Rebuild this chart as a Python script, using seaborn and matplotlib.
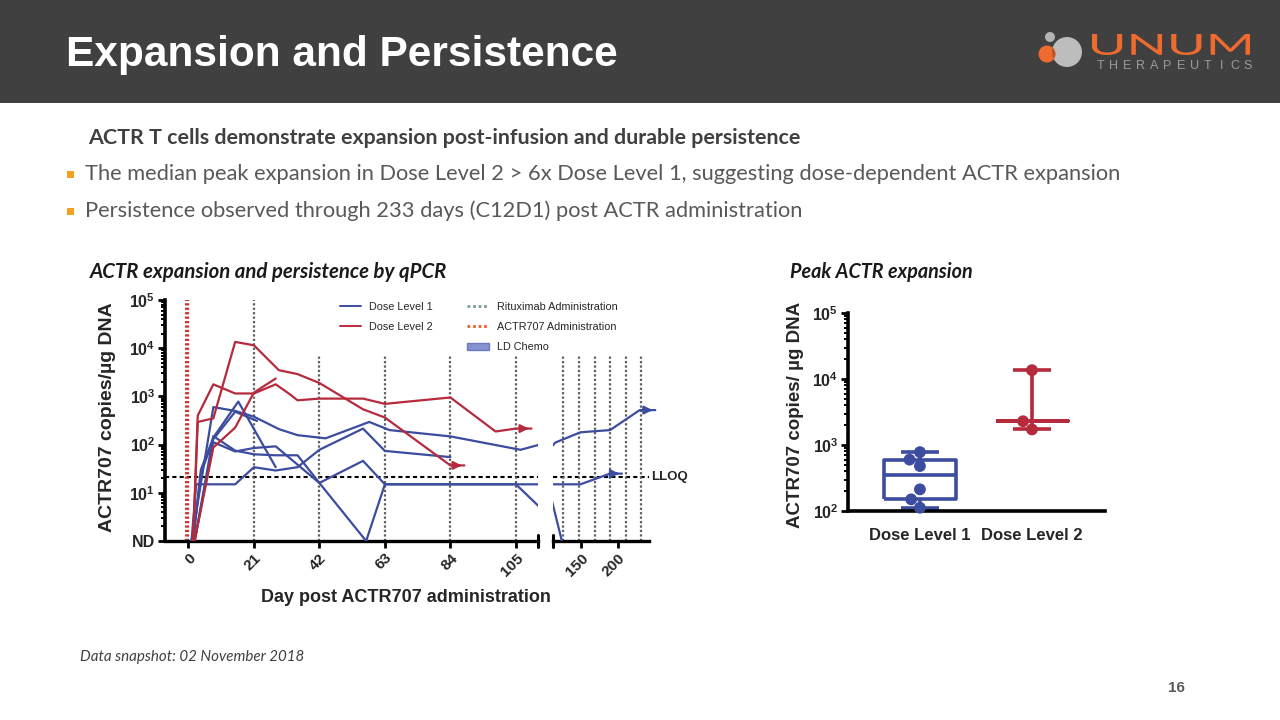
import numpy as np
import pandas as pd
import matplotlib
matplotlib.use("Agg")
import matplotlib.pyplot as plt
import seaborn as sns
from matplotlib.lines import Line2D
from matplotlib.patches import Patch, Rectangle, Circle, PathPatch
from matplotlib.textpath import TextPath
from matplotlib.font_manager import FontProperties
from matplotlib.transforms import Affine2D
from matplotlib.ticker import LogLocator, NullFormatter

# ---- qPCR time courses: study day / ACTR707 copies per ug DNA (1 = ND) ----
dl1_a_day = [1, 8, 15, 21, 29, 35, 44, 58, 64.5, 84, 106.5, 115, 149, 189, 229, 250]
dl1_a_val = [1, 600, 500, 380, 210, 157, 135, 295, 200, 148, 78, 110, 180, 200, 520, 520]
dl1_b_day = [1.5, 4, 8, 16, 28]
dl1_b_val = [1, 30, 140, 780, 34]
dl1_c_day = [1.5, 4, 8, 15, 22]
dl1_c_val = [1, 25, 130, 480, 310]
dl1_d_day = [2, 8, 15, 21, 28, 35, 42, 57, 63, 105, 124]
dl1_d_val = [1, 150, 75, 63, 60, 60, 16, 1, 15, 15, 1]
dl1_e_day = [2, 8, 15, 21, 28, 42, 56, 63, 105, 149, 189, 205]
dl1_e_val = [1, 112, 72, 85, 92, 16, 46, 15, 15, 15, 25, 25]
dl1_f_day = [1, 2.5, 15, 21, 28, 35, 42, 56, 63, 84]
dl1_f_val = [1, 15, 15, 34, 29, 34, 78, 215, 74, 55]

dl2_a_day = [1.5, 3, 8, 15, 21, 28, 32.6, 35, 42, 56, 63, 84, 98.5, 105, 110]
dl2_a_val = [1, 400, 1780, 1150, 1150, 1780, 1100, 830, 900, 900, 700, 950, 187, 215, 215]
dl2_b_day = [1.5, 3, 8, 15, 21, 29, 35, 42, 56, 63, 84, 88.5]
dl2_b_val = [1, 295, 350, 13500, 11500, 3500, 2900, 1900, 540, 365, 37, 37]
dl2_c_day = [2, 8, 15, 21, 28]
dl2_c_val = [1, 87, 225, 1200, 2350]

# patients still followed at data cut (drawn with an arrow)
ongoing = ["DL1-A", "DL1-E", "DL2-A", "DL2-B"]

# peak expansion per patient
dl1_peak = [780, 600, 480, 213, 150, 112]
dl2_peak = [13600, 2290, 1720]

lloq = 21
ritux_left = [21, 42, 63, 84, 105]
ritux_right = [126, 147, 168, 189, 210, 231]
ritux_day0 = -0.8
actr_day0 = 0
left_ticks = [0, 21, 42, 63, 84, 105]
right_ticks = [150, 200]

sns.set_theme(style="white")
plt.rcParams["font.family"] = ["Liberation Sans", "DejaVu Sans"]
plt.rcParams["mathtext.fontset"] = "custom"
plt.rcParams["mathtext.bf"] = "Liberation Sans:bold"
plt.rcParams["mathtext.rm"] = "Liberation Sans"

BLUE = "#3c4c9e"
RED = "#b52a3c"
GRAY_DOT = "#5f5f5f"
pal = {"Dose Level 1": BLUE, "Dose Level 2": RED}

patients = [
    ("DL1-A", "Dose Level 1", dl1_a_day, dl1_a_val),
    ("DL1-B", "Dose Level 1", dl1_b_day, dl1_b_val),
    ("DL1-C", "Dose Level 1", dl1_c_day, dl1_c_val),
    ("DL1-D", "Dose Level 1", dl1_d_day, dl1_d_val),
    ("DL1-E", "Dose Level 1", dl1_e_day, dl1_e_val),
    ("DL1-F", "Dose Level 1", dl1_f_day, dl1_f_val),
    ("DL2-A", "Dose Level 2", dl2_a_day, dl2_a_val),
    ("DL2-B", "Dose Level 2", dl2_b_day, dl2_b_val),
    ("DL2-C", "Dose Level 2", dl2_c_day, dl2_c_val),
]
rows = []
for name, dose, days, vals in patients:
    for d, v in zip(days, vals):
        rows.append((name, dose, d, v))
df = pd.DataFrame(rows, columns=["patient", "dose", "day", "copies"])

dfp = pd.DataFrame({
    "dose": ["Dose Level 1"] * len(dl1_peak) + ["Dose Level 2"] * len(dl2_peak),
    "peak": dl1_peak + dl2_peak,
})

fig = plt.figure(figsize=(12.8, 7.2), dpi=100)
IN = fig.dpi_scale_trans
H = 7.2


def xy(x, y):
    # slide pixel -> inches from bottom left
    return x / 100, H - y / 100


# ---- slide header ----
fig.add_artist(Rectangle(xy(0, 103), 12.8, 1.03, transform=IN, color="#404040", lw=0))
fig.text(*xy(66, 55), "Expansion and Persistence", transform=IN, color="white",
         fontsize=30.5, fontweight="bold", va="center")

# logo
big = Circle(xy(1067, 52), 0.15, transform=IN, color="#bdbdbd", lw=0)
small = Circle(xy(1050, 37), 0.05, transform=IN, color="#b3b3b3", lw=0)
orange = Circle(xy(1047, 54), 0.085, transform=IN, color="#ee6a2f", lw=0)
for c in (big, small, orange):
    fig.add_artist(c)
shade = Circle(xy(1067, 52), 0.15, transform=IN, color="#6b2a10", alpha=0.35, lw=0)
fig.add_artist(shade)
shade.set_clip_path(orange)
tp = TextPath((0, 0), "UNUM", size=10, prop=FontProperties(family="Lato"))
bb = tp.get_extents()
tr = (Affine2D().translate(-bb.x0, -bb.y0)
      .scale(158 / bb.width / 100, 21 / bb.height / 100)
      .translate(1092 / 100, H - 55 / 100) + IN)
fig.add_artist(PathPatch(tp, transform=tr, color="#ee6a2f", lw=0))
for i, ch in enumerate("THERAPEUTICS"):
    fig.text(*xy(1100.5 + i * 13.4, 66), ch, transform=IN, color="#9b9b9b",
             fontsize=9, ha="center", va="center")

# ---- slide text ----
fig.text(*xy(88, 138), "ACTR T cells demonstrate expansion post-infusion and durable persistence",
         transform=IN, family="Lato", fontsize=15.4, fontweight="bold", color="#404040", va="center")
bullets = ["The median peak expansion in Dose Level 2 > 6x Dose Level 1, suggesting dose-dependent ACTR expansion",
           "Persistence observed through 233 days (C12D1) post ACTR administration"]
for y, b in zip([174, 211], bullets):
    fig.add_artist(Rectangle(xy(67, y + 4), 0.07, 0.07, transform=IN, color="#f2a01e", lw=0))
    fig.text(*xy(85, y), b, transform=IN, family="Lato", fontsize=15.75, color="#595959", va="center")

fig.text(*xy(90, 272), "ACTR expansion and persistence by qPCR", transform=IN, family="Lato",
         fontsize=14.7, fontweight="bold", style="italic", color="#1a1a1a", va="center")
fig.text(*xy(790, 272), "Peak ACTR expansion", transform=IN, family="Lato",
         fontsize=14.2, fontweight="bold", style="italic", color="#1a1a1a", va="center")
fig.text(*xy(80, 657), "Data snapshot: 02 November 2018", transform=IN, family="Lato",
         fontsize=10.9, style="italic", color="#404040", va="center")
fig.text(*xy(1176, 688), "16", transform=IN, fontsize=11, fontweight="bold", color="#595959",
         ha="center", va="center")

# ---- qPCR time course, broken x axis ----
x1_min, x1_max = -7.5, 112.1
x2_min, x2_max, x2_end = 112, 255, 241
ax1 = fig.add_axes([165 / 1280, 179 / 720, 373 / 1280, 241 / 720])
ax2 = fig.add_axes([553 / 1280, 179 / 720, 106 / 1280, 241 / 720])

ylabels = ["ND"] + [rf"$\mathbf{{10^{{{k}}}}}$" for k in range(1, 6)]
yticks = [10.0 ** k for k in range(0, 6)]

for ax in (ax1, ax2):
    ax.set_yscale("log")
    sns.lineplot(data=df, x="day", y="copies", hue="dose", units="patient", estimator=None,
                 sort=False, palette=pal, lw=1.6, legend=False, ax=ax, zorder=3)
    ax.set_ylim(1, 1e5)
    ax.set_xlabel("")
    ax.set_ylabel("")
    for s in ("top", "right"):
        ax.spines[s].set_visible(False)
    ax.spines["bottom"].set_linewidth(2.4)
    ax.spines["bottom"].set_color("black")
    ax.patch.set_alpha(0)

ax1.hlines(lloq, x1_min, x1_max, color="black", ls=(0, (2, 1.5)), lw=1.5, zorder=1)
ax2.hlines(lloq, x2_min, x2_end, color="black", ls=(0, (2, 1.5)), lw=1.5, zorder=1)

for name, dose, days, vals in patients:
    if name in ongoing:
        ax = ax1 if days[-1] <= x1_max else ax2
        ax.annotate("", xy=(days[-1], vals[-1]), xytext=(-7, 0), textcoords="offset points",
                    arrowprops=dict(arrowstyle="-|>", color=pal[dose], lw=1.6, mutation_scale=12),
                    annotation_clip=False, zorder=4)

ax1.vlines(ritux_left[:1], 1, 1e5, color=GRAY_DOT, ls=(0, (1, 1)), lw=1.6, zorder=1)
ax1.vlines(ritux_left[1:], 1, 7e3, color=GRAY_DOT, ls=(0, (1, 1)), lw=1.6, zorder=1)
ax1.vlines([ritux_day0], 1, 1e5, color="#a84a4a", ls=(0, (1, 1)), lw=1.6, zorder=2)
ax1.vlines([actr_day0], 1, 1e5, color="#e8281e", ls=(0, (1, 1)), lw=1.6, zorder=2)
ax2.vlines(ritux_right, 1, 7e3, color=GRAY_DOT, ls=(0, (1, 1)), lw=1.6, zorder=1)

ax1.set_xlim(x1_min, x1_max)
ax1.set_xticks(left_ticks)
ax1.set_xticklabels([str(t) for t in left_ticks], rotation=45, ha="right", rotation_mode="anchor",
                    fontweight="bold", fontsize=11)
ax1.set_yticks(yticks)
ax1.set_yticklabels(ylabels, fontweight="bold", fontsize=11.5)
ax1.yaxis.set_minor_locator(LogLocator(base=10, subs=np.arange(2, 10)))
ax1.yaxis.set_minor_formatter(NullFormatter())
ax1.spines["left"].set_linewidth(2.6)
ax1.spines["left"].set_color("black")
ax1.tick_params(axis="both", which="major", length=5, width=2, color="black", left=True, bottom=True,
                pad=2)
ax1.tick_params(axis="y", which="minor", length=3, width=1.4, color="black", left=True)
ax1.axvline(x1_max, ymin=-0.025, ymax=0.025, color="black", lw=2.2, clip_on=False)

ax2.set_xlim(x2_min, x2_max)
ax2.spines["left"].set_visible(False)
ax2.spines["bottom"].set_bounds(x2_min, x2_end)
ax2.set_xticks(right_ticks)
ax2.set_xticklabels([str(t) for t in right_ticks], rotation=45, ha="right", rotation_mode="anchor",
                    fontweight="bold", fontsize=11)
ax2.tick_params(axis="x", which="major", length=5, width=2, color="black", bottom=True, pad=2)
ax2.tick_params(axis="y", which="both", left=False, labelleft=False)
ax2.axvline(x2_min, ymin=-0.025, ymax=0.025, color="black", lw=2.2, clip_on=False)
ax2.text(x2_end + 3, lloq, "LLOQ", fontsize=9.5, fontweight="bold", va="center", ha="left")

fig.text(*xy(108, 417), "ACTR707 copies/µg DNA", transform=IN, rotation=90, fontsize=14,
         fontweight="bold", ha="center", va="center")
fig.text(*xy(406, 598), "Day post ACTR707 administration", transform=IN, fontsize=13,
         fontweight="bold", ha="center", va="center")

handles = [
    Line2D([], [], color=BLUE, lw=1.4),
    Line2D([], [], color=RED, lw=1.4),
    Line2D([], [], lw=0),
    Line2D([], [], color="#7d9c9c", ls=(0, (1, 1)), lw=2),
    Line2D([], [], color="#e8602a", ls=(0, (1, 1)), lw=2),
    Patch(facecolor="#8592cf", edgecolor="#6d7bc0"),
]
labels = ["Dose Level 1", "Dose Level 2", "", "Rituximab Administration",
          "ACTR707 Administration", "LD Chemo"]
ax1.legend(handles, labels, ncol=2, frameon=False, fontsize=7.8, loc="upper left",
           bbox_to_anchor=(330 / 1280, 1 - 292 / 720), bbox_transform=fig.transFigure,
           handlelength=2.0, columnspacing=3.2, labelspacing=0.95, handletextpad=0.7)

# ---- peak expansion box plot ----
ax3 = fig.add_axes([848 / 1280, 209 / 720, 257 / 1280, 198 / 720])
ax3.set_yscale("log")


def box_stats(vals):
    v = np.asarray(vals, float)
    med = float(np.median(v))
    if len(v) >= 4:
        q1, q3 = np.percentile(v, [25, 75], method="nearest")
    else:
        q1 = q3 = med
    return dict(med=med, q1=float(q1), q3=float(q3), whislo=float(v.min()), whishi=float(v.max()),
                fliers=[])


res = ax3.bxp([box_stats(dl1_peak), box_stats(dl2_peak)], positions=[0, 1], widths=0.65,
              capwidths=0.34, showfliers=False, manage_ticks=False)
for i, col in enumerate([BLUE, RED]):
    for art in [res["boxes"][i], res["medians"][i], res["whiskers"][2 * i], res["whiskers"][2 * i + 1],
                res["caps"][2 * i], res["caps"][2 * i + 1]]:
        art.set_color(col)
        art.set_linewidth(2.6)
        art.set_solid_capstyle("butt")

sns.swarmplot(data=dfp, x="dose", y="peak", hue="dose", palette=pal, size=8.5, ax=ax3,
              legend=False, order=["Dose Level 1", "Dose Level 2"], zorder=4)
for coll in ax3.collections:
    coll.set_clip_on(False)

ax3.set_xlim(-0.642, 1.652)
ax3.set_ylim(100, 1e5)
ax3.set_xlabel("")
ax3.set_ylabel("")
ax3.set_yticks([1e2, 1e3, 1e4, 1e5])
ax3.set_yticklabels([rf"$\mathbf{{10^{{{k}}}}}$" for k in range(2, 6)], fontsize=11.5)
ax3.yaxis.set_minor_locator(LogLocator(base=10, subs=np.arange(2, 10)))
ax3.yaxis.set_minor_formatter(NullFormatter())
ax3.set_xticks([0, 1])
ax3.set_xticklabels(["Dose Level 1", "Dose Level 2"], fontsize=12, fontweight="bold")
for s in ("top", "right"):
    ax3.spines[s].set_visible(False)
for s in ("left", "bottom"):
    ax3.spines[s].set_linewidth(2.6)
    ax3.spines[s].set_color("black")
ax3.tick_params(axis="x", length=0, pad=12)
ax3.tick_params(axis="y", which="major", length=5, width=2, color="black", left=True, pad=2)
ax3.tick_params(axis="y", which="minor", length=3, width=1.4, color="black", left=True)
ax3.patch.set_alpha(0)
fig.text(*xy(795, 415), "ACTR707 copies/ µg DNA", transform=IN, rotation=90, fontsize=13.5,
         fontweight="bold", ha="center", va="center")

fig.savefig("out.png", dpi=100)
